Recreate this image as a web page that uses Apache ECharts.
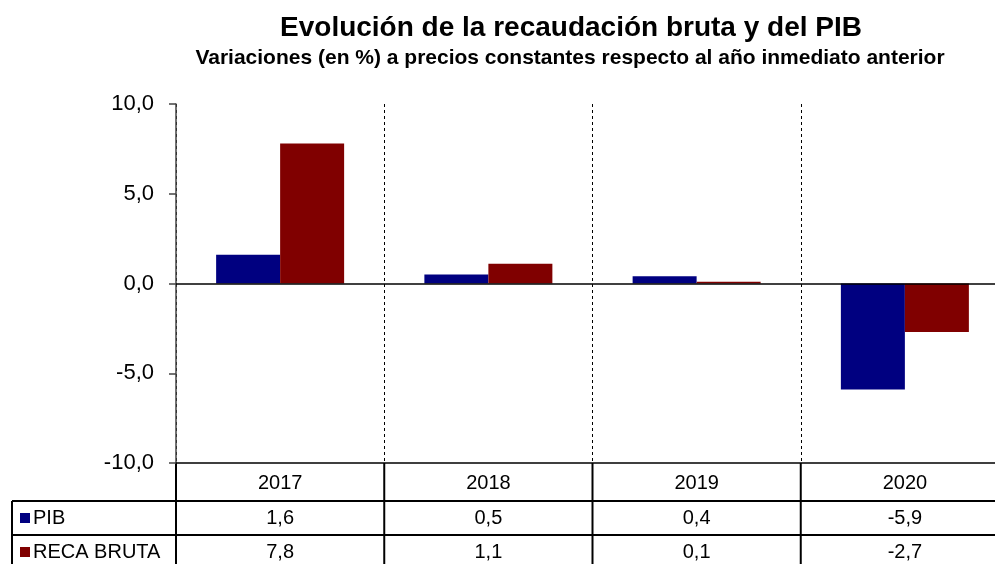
<!DOCTYPE html>
<html>
<head>
<meta charset="utf-8">
<script src="https://cdn.jsdelivr.net/npm/echarts@6/dist/echarts.min.js"></script>
<style>
  html, body { margin: 0; background: #fff; overflow: hidden; }
  /* el grafico original sigue un poco mas alla del borde derecho */
  #chart { width: 1010px; height: 564px; }
</style>
</head>
<body>
<div id="chart"></div>
<script>
  // datos
  const years = ['2017', '2018', '2019', '2020'];
  const pib = [1.6, 0.5, 0.4, -5.9];
  const recaBruta = [7.8, 1.1, 0.1, -2.7];
  const seriesNames = ['PIB', 'RECA BRUTA'];
  const seriesColors = ['#000080', '#800000'];
  const yMin = -10, yMax = 10, yStep = 5;

  const FONT = '"Liberation Sans", Arial, sans-serif';
  const fmt = v => v.toFixed(1).replace('.', ',');

  const chart = echarts.init(document.getElementById('chart'), null, { renderer: 'canvas' });

  chart.setOption({
    animation: false,
    backgroundColor: '#fff',
    title: [
      {
        text: 'Evolución de la recaudación bruta y del PIB',
        left: 566, top: 9, textAlign: 'center',
        textStyle: { fontFamily: FONT, fontSize: 28, fontWeight: 'bold', color: '#000' }
      },
      {
        text: 'Variaciones (en %) a precios constantes respecto al año inmediato anterior',
        left: 565, top: 43, textAlign: 'center',
        textStyle: { fontFamily: FONT, fontSize: 21, fontWeight: 'bold', color: '#000' }
      }
    ],
    grid: { left: 176, top: 104, right: 1, height: 359, containLabel: false },
    xAxis: {
      type: 'category',
      data: years,
      position: 'bottom',
      axisLine: { onZero: false, lineStyle: { color: '#000', width: 1.5 } },
      axisTick: { show: false },
      axisLabel: { margin: 10, fontFamily: FONT, fontSize: 20, color: '#000' },
      splitLine: { show: true, lineStyle: { color: '#000', width: 1, type: [3, 3] } }
    },
    yAxis: {
      type: 'value',
      min: yMin, max: yMax, interval: yStep,
      axisLine: { show: true, lineStyle: { color: '#444', width: 1.5 } },
      axisTick: { show: true, length: 7, lineStyle: { color: '#444', width: 1.5 } },
      axisLabel: { margin: 22, fontFamily: FONT, fontSize: 22, color: '#000', formatter: fmt },
      splitLine: { show: false }
    },
    series: [
      {
        name: seriesNames[0], type: 'bar', data: pib,
        barWidth: 64, barGap: '0%',
        itemStyle: { color: seriesColors[0] },
        markLine: {
          silent: true, symbol: 'none', label: { show: false },
          lineStyle: { color: '#000', width: 1.5, type: 'solid' },
          data: [{ yAxis: 0 }]
        }
      },
      {
        name: seriesNames[1], type: 'bar', data: recaBruta,
        barWidth: 64, barGap: '0%',
        itemStyle: { color: seriesColors[1] }
      }
    ]
  });

  // tabla de datos bajo el grafico
  function drawTable() {
    const centers = years.map((y, i) => chart.convertToPixel({ xAxisIndex: 0 }, i));
    const band = centers[1] - centers[0];
    const edges = [centers[0] - band / 2].concat(centers.map(c => c + band / 2));
    const top = chart.convertToPixel({ yAxisIndex: 0 }, yMin);
    const headH = 38, rowH = 34, left = 12;
    const bottom = top + headH + rowH * seriesNames.length;
    const right = edges[edges.length - 1];
    const stroke = { stroke: '#000', lineWidth: 2 };
    const els = [];

    edges.forEach(x => {
      els.push({ type: 'line', shape: { x1: x, y1: top, x2: x, y2: bottom }, style: stroke });
    });
    els.push({ type: 'line', shape: { x1: left, y1: top + headH, x2: left, y2: bottom }, style: stroke });
    for (let r = 0; r <= seriesNames.length; r++) {
      const y = top + headH + rowH * r;
      els.push({ type: 'line', shape: { x1: left, y1: y, x2: right, y2: y }, style: stroke });
    }

    const rows = [pib, recaBruta];
    rows.forEach((vals, r) => {
      const cy = top + headH + rowH * r + rowH / 2;
      els.push({ type: 'rect', shape: { x: 20, y: cy - 5, width: 10, height: 10 }, style: { fill: seriesColors[r] } });
      els.push({
        type: 'text', x: 33, y: cy,
        style: { text: seriesNames[r], font: '20px ' + FONT, fill: '#000', textAlign: 'left', textVerticalAlign: 'middle' }
      });
      vals.forEach((v, i) => {
        els.push({
          type: 'text', x: centers[i], y: cy,
          style: { text: fmt(v), font: '20px ' + FONT, fill: '#000', textAlign: 'center', textVerticalAlign: 'middle' }
        });
      });
    });

    chart.setOption({ graphic: els });
  }
  drawTable();
</script>
</body>
</html>
